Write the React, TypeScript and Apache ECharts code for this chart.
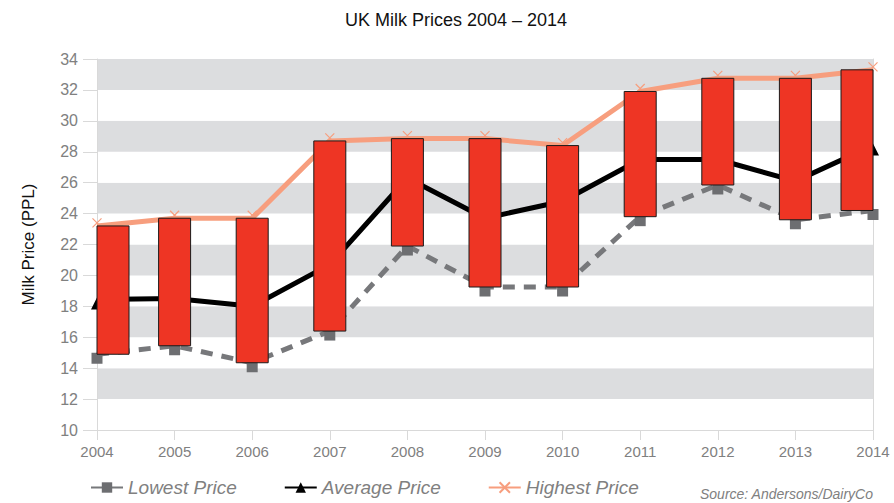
import React, { useEffect, useRef } from "react";
import * as echarts from "echarts";

// Years on the horizontal axis
const years = ["2004", "2005", "2006", "2007", "2008", "2009", "2010", "2011", "2012", "2013", "2014"];

// Prices in pence per litre
const lowestPrice = [14.9, 15.45, 14.35, 16.4, 21.9, 19.25, 19.25, 23.8, 25.85, 23.6, 24.2];
const averagePrice = [18.45, 18.5, 18.0, 20.7, 26.3, 23.7, 24.8, 27.5, 27.5, 26.1, 28.4];
const highestPrice = [23.2, 23.7, 23.7, 28.7, 28.85, 28.85, 28.4, 31.9, 32.75, 32.75, 33.3];

const FONT = "'Liberation Sans', Arial, Helvetica, sans-serif";
const GREY_TEXT = "#808080";
const AXIS_GREY = "#d9d9d9";
const BAND_GREY = "#dcdddf";
const BAR_RED = "#ee3524";
const SALMON = "#f79e7e";
const DASH_GREY = "#77787b";

const CROSS = "path://M0,0L10,10M10,0L0,10";
const BAR_WIDTH = 32;

export default function App() {
  const ref = useRef<HTMLDivElement>(null);

  useEffect(() => {
    if (!ref.current) return;
    const chart = echarts.init(ref.current, null, { renderer: "svg" });

    // Floating range bars: lowest to highest price each year, kept inside the plot area
    const rangeData = years.map((_, i) => [i, lowestPrice[i], highestPrice[i]]);

    const option = {
      animation: false,
      backgroundColor: "#ffffff",
      textStyle: { fontFamily: FONT },
      title: {
        text: "UK Milk Prices 2004 – 2014",
        left: 340,
        top: 6,
        textStyle: { fontFamily: FONT, fontSize: 18, fontWeight: "normal", color: "#111111" },
      },
      grid: { left: 97, right: 21, top: 59, bottom: 73 },
      legend: {
        left: 85,
        top: 473,
        itemWidth: 32,
        itemHeight: 13,
        itemGap: 47,
        textStyle: { fontFamily: FONT, fontSize: 19, fontStyle: "italic", color: GREY_TEXT },
        data: ["Lowest Price", "Average Price", "Highest Price"],
      },
      xAxis: {
        type: "category",
        data: years,
        boundaryGap: false,
        axisLine: { show: true, lineStyle: { color: AXIS_GREY, width: 1 } },
        axisTick: { show: true, length: 10, lineStyle: { color: AXIS_GREY } },
        axisLabel: { color: GREY_TEXT, fontSize: 15, fontFamily: FONT, margin: 14 },
        splitLine: { show: false },
      },
      yAxis: [
        {
          type: "value",
          min: 10,
          max: 34,
          interval: 2,
          name: "Milk Price (PPL)",
          nameLocation: "middle",
          nameGap: 60,
          nameTextStyle: { fontFamily: FONT, fontSize: 17, color: "#111111" },
          axisLine: { show: true, lineStyle: { color: AXIS_GREY, width: 1 } },
          axisTick: { show: true, length: 14, lineStyle: { color: AXIS_GREY } },
          axisLabel: { color: GREY_TEXT, fontSize: 16, fontFamily: FONT, margin: 19 },
          splitLine: { show: false },
          splitArea: { show: true, areaStyle: { color: ["#ffffff", BAND_GREY] } },
        },
        {
          type: "value",
          min: 10,
          max: 34,
          interval: 2,
          position: "right",
          axisLine: { show: true, lineStyle: { color: AXIS_GREY, width: 1 } },
          axisTick: { show: false },
          axisLabel: { show: false },
          splitLine: { show: false },
        },
      ],
      series: [
        {
          name: "Lowest Price",
          type: "line",
          data: lowestPrice,
          z: 2,
          symbol: "rect",
          symbolSize: 11,
          symbolOffset: [0, 4],
          showAllSymbol: true,
          itemStyle: { color: "#6d6e71" },
          lineStyle: { color: DASH_GREY, width: 5, type: [12, 9] },
        },
        {
          name: "Average Price",
          type: "line",
          data: averagePrice,
          z: 2,
          symbol: "triangle",
          symbolSize: 12,
          symbolOffset: [0, 4],
          showAllSymbol: true,
          itemStyle: { color: "#000000" },
          lineStyle: { color: "#000000", width: 5 },
        },
        {
          name: "Highest Price",
          type: "line",
          data: highestPrice,
          z: 2,
          symbol: CROSS,
          symbolSize: 9,
          symbolOffset: [0, -3],
          showAllSymbol: true,
          itemStyle: { color: "transparent", borderColor: SALMON, borderWidth: 1.2 },
          lineStyle: { color: SALMON, width: 5 },
        },
        {
          name: "Range",
          type: "custom",
          z: 5,
          data: rangeData,
          encode: { x: 0, y: [1, 2] },
          renderItem: (params: any, api: any) => {
            const idx = api.value(0);
            const bottom = api.coord([idx, api.value(1)]);
            const top = api.coord([idx, api.value(2)]);
            const cs = params.coordSys;
            let left = bottom[0] - BAR_WIDTH / 2;
            if (left < cs.x) left = cs.x;
            if (left + BAR_WIDTH > cs.x + cs.width) left = cs.x + cs.width - BAR_WIDTH;
            return {
              type: "rect",
              shape: { x: left, y: top[1], width: BAR_WIDTH, height: bottom[1] - top[1] },
              style: { fill: BAR_RED, stroke: "#1a1a1a", lineWidth: 1 },
            };
          },
        },
      ],
      graphic: [
        {
          type: "text",
          left: 700,
          top: 487,
          style: {
            text: "Source: Andersons/DairyCo",
            fontFamily: FONT,
            fontSize: 14,
            fontStyle: "italic",
            fill: GREY_TEXT,
          },
        },
      ],
    };

    chart.setOption(option as any);
    return () => chart.dispose();
  }, []);

  return <div ref={ref} style={{ width: 894, height: 503, position: "absolute", left: 0, top: 0 }} />;
}
